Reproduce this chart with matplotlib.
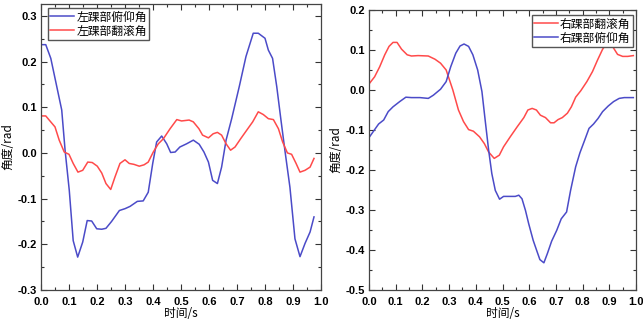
import matplotlib
matplotlib.use("Agg")
import matplotlib.pyplot as plt
from matplotlib.ticker import MultipleLocator
import numpy as np

plt.rcParams['font.family'] = ['Noto Sans CJK SC', 'DejaVu Sans']

# Left chart data
l_pitch_t = [0, 0.017, 0.035, 0.054, 0.074, 0.086, 0.101, 0.115, 0.131, 0.149, 0.165, 0.181, 0.199,
             0.217, 0.232, 0.252, 0.280, 0.300, 0.318, 0.344, 0.365, 0.383, 0.399, 0.413, 0.431,
             0.449, 0.463, 0.479, 0.496, 0.520, 0.544, 0.565, 0.582, 0.598, 0.613, 0.630, 0.645,
             0.661, 0.681, 0.708, 0.732, 0.758, 0.776, 0.800, 0.812, 0.827, 0.842, 0.857, 0.871,
             0.889, 0.907, 0.925, 0.943, 0.961, 0.975]
l_pitch_v = [0.237, 0.237, 0.207, 0.152, 0.094, 0.006, -0.082, -0.192, -0.228, -0.195, -0.148, -0.149,
             -0.166, -0.167, -0.165, -0.150, -0.126, -0.122, -0.117, -0.106, -0.105, -0.086, -0.023,
             0.024, 0.037, 0.020, 0.001, 0.002, 0.013, 0.020, 0.028, 0.019, 0.002, -0.020, -0.060,
             -0.067, -0.031, 0.028, 0.075, 0.145, 0.211, 0.262, 0.262, 0.251, 0.225, 0.207, 0.145,
             0.072, 0.006, -0.075, -0.188, -0.227, -0.198, -0.173, -0.140]
l_roll_t = [0, 0.017, 0.032, 0.050, 0.065, 0.083, 0.100, 0.115, 0.132, 0.149, 0.167, 0.183, 0.201,
            0.217, 0.232, 0.249, 0.264, 0.282, 0.300, 0.315, 0.332, 0.351, 0.368, 0.383, 0.401,
            0.419, 0.437, 0.461, 0.485, 0.502, 0.529, 0.544, 0.564, 0.577, 0.598, 0.615, 0.630,
            0.645, 0.661, 0.677, 0.693, 0.713, 0.735, 0.756, 0.776, 0.794, 0.812, 0.830, 0.848,
            0.863, 0.880, 0.895, 0.911, 0.925, 0.943, 0.961, 0.975]
l_roll_v = [0.081, 0.081, 0.070, 0.057, 0.028, 0.002, -0.003, -0.023, -0.042, -0.038, -0.020, -0.021,
            -0.029, -0.044, -0.067, -0.080, -0.053, -0.023, -0.015, -0.023, -0.025, -0.029, -0.026,
            -0.020, 0.002, 0.020, 0.031, 0.053, 0.073, 0.070, 0.072, 0.068, 0.053, 0.039, 0.033,
            0.042, 0.045, 0.039, 0.020, 0.006, 0.013, 0.031, 0.050, 0.068, 0.090, 0.084, 0.075,
            0.073, 0.053, 0.024, 0.000, -0.003, -0.023, -0.042, -0.038, -0.031, -0.012]

# Right chart data
r_roll_t = [0, 0.021, 0.040, 0.059, 0.075, 0.090, 0.105, 0.122, 0.143, 0.159, 0.184, 0.222, 0.247,
            0.268, 0.289, 0.314, 0.335, 0.354, 0.373, 0.391, 0.414, 0.432, 0.448, 0.469, 0.488,
            0.504, 0.529, 0.555, 0.580, 0.595, 0.611, 0.627, 0.642, 0.661, 0.680, 0.693, 0.708,
            0.724, 0.743, 0.758, 0.774, 0.793, 0.816, 0.837, 0.856, 0.875, 0.893, 0.912, 0.931,
            0.950, 0.969, 0.990]
r_roll_v = [0.015, 0.033, 0.058, 0.088, 0.109, 0.119, 0.119, 0.102, 0.088, 0.085, 0.086, 0.085, 0.077,
            0.067, 0.050, 0.000, -0.050, -0.079, -0.099, -0.103, -0.117, -0.134, -0.155, -0.171,
            -0.163, -0.142, -0.117, -0.092, -0.069, -0.050, -0.046, -0.050, -0.063, -0.069, -0.082,
            -0.082, -0.074, -0.069, -0.058, -0.042, -0.018, -0.002, 0.021, 0.046, 0.075, 0.102,
            0.119, 0.109, 0.089, 0.084, 0.084, 0.086]
r_pitch_t = [0, 0.018, 0.036, 0.055, 0.072, 0.090, 0.115, 0.138, 0.159, 0.191, 0.222, 0.241, 0.268,
             0.289, 0.306, 0.325, 0.341, 0.356, 0.373, 0.389, 0.407, 0.423, 0.435, 0.448, 0.460,
             0.473, 0.489, 0.504, 0.523, 0.548, 0.561, 0.573, 0.586, 0.598, 0.615, 0.630, 0.640,
             0.655, 0.668, 0.684, 0.703, 0.720, 0.740, 0.755, 0.774, 0.790, 0.808, 0.824, 0.841,
             0.858, 0.875, 0.896, 0.916, 0.937, 0.956, 0.975, 0.990]
r_pitch_v = [-0.119, -0.102, -0.085, -0.075, -0.054, -0.042, -0.029, -0.018, -0.019, -0.019, -0.021,
             -0.013, 0.002, 0.021, 0.058, 0.092, 0.110, 0.115, 0.109, 0.088, 0.050, -0.004, -0.075,
             -0.150, -0.209, -0.251, -0.273, -0.266, -0.266, -0.266, -0.263, -0.272, -0.301, -0.334,
             -0.376, -0.405, -0.424, -0.432, -0.409, -0.378, -0.351, -0.322, -0.305, -0.251, -0.192,
             -0.157, -0.125, -0.096, -0.085, -0.071, -0.054, -0.040, -0.029, -0.021, -0.019, -0.019,
             -0.019]

xticks = [0.0, 0.1, 0.2, 0.3, 0.4, 0.5, 0.6, 0.7, 0.8, 0.9, 1.0]
left_yticks = [-0.3, -0.2, -0.1, 0.0, 0.1, 0.2, 0.3]
right_yticks = [-0.5, -0.4, -0.3, -0.2, -0.1, 0.0, 0.1, 0.2]

BLUE = '#4b4bc8'
RED = '#ff4a4a'
tickfont = dict(family='Liberation Sans', weight='bold', size=8)

fig = plt.figure(figsize=(6.43, 3.21), dpi=100)
axL = fig.add_axes([41/643, 1-290/321, 280/643, 286/321])
axR = fig.add_axes([369/643, 1-290/321, 267/643, 280/321])

def style(ax, yticks, ylim, ylab_x):
    ax.set_xlim(0, 1.0)
    ax.set_ylim(*ylim)
    ax.set_xticks(xticks)
    ax.set_xticklabels([f"{v:.1f}" for v in xticks], fontdict=tickfont)
    ax.set_yticks(yticks)
    ax.set_yticklabels([f"{v:.1f}" for v in yticks], fontdict=tickfont)
    ax.xaxis.set_minor_locator(MultipleLocator(0.05))
    ax.yaxis.set_minor_locator(MultipleLocator(0.05))
    ax.tick_params(which='both', direction='in', top=True, right=True, color='#333333', width=0.8)
    ax.tick_params(which='major', length=4)
    ax.tick_params(axis='x', which='major', pad=5)
    ax.tick_params(axis='y', which='major', pad=3)
    ax.tick_params(which='minor', length=2)
    for s in ax.spines.values():
        s.set_color('#444444')
        s.set_linewidth(0.9)
    ax.set_xlabel('时间/s', fontsize=8.5, labelpad=0)
    ax.set_ylabel('角度/rad', fontsize=8.5)
    ax.yaxis.set_label_coords(ylab_x, 0.5)

legkw = dict(fontsize=8.5, frameon=True, fancybox=False, edgecolor='#555555',
             framealpha=1, borderpad=0.2, labelspacing=0.1, handlelength=2.0,
             handletextpad=0.2)

axL.plot(l_pitch_t, l_pitch_v, color=BLUE, lw=1.1, label='左踝部俯仰角')
axL.plot(l_roll_t, l_roll_v, color=RED, lw=1.1, label='左踝部翻滚角')
style(axL, left_yticks, (-0.3, 0.326), -0.095)
axL.legend(loc='upper left', bbox_to_anchor=(7/280, 1 - 4/286), borderaxespad=0, **legkw)

axR.plot(r_roll_t, r_roll_v, color=RED, lw=1.1, label='右踝部翻滚角')
axR.plot(r_pitch_t, r_pitch_v, color=BLUE, lw=1.1, label='右踝部俯仰角')
style(axR, right_yticks, (-0.5, 0.2), -0.10)
axR.legend(loc='upper right', bbox_to_anchor=(1 - 3/267, 1 - 5/280), borderaxespad=0, **legkw)

fig.savefig('out.png', dpi=100)
